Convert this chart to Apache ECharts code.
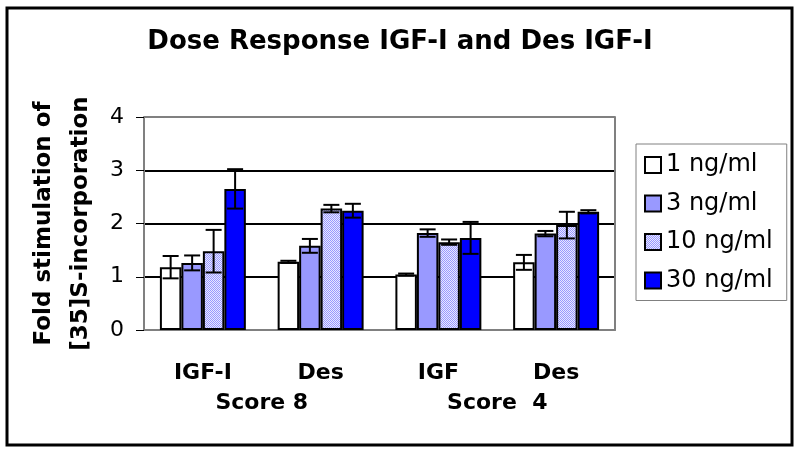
<!DOCTYPE html>
<html><head><meta charset="utf-8">
<script src="https://cdn.jsdelivr.net/npm/echarts@6/dist/echarts.min.js"></script>
<style>html,body{margin:0;padding:0;background:#fff}#c{width:800px;height:454px}</style>
</head><body><div id="c"></div>
<script>
const categories = ['IGF-I', 'Des', 'IGF', 'Des'];
const scoreLabels = ['Score 8', 'Score  4'];
const seriesNames = ['1 ng/ml', '3 ng/ml', '10 ng/ml', '30 ng/ml'];
const mean1 = [1.18, 1.28, 1.04, 1.27];
const mean3 = [1.26, 1.58, 1.82, 1.81];
const mean10 = [1.48, 2.28, 1.65, 1.97];
const mean30 = [2.65, 2.24, 1.73, 2.22];
const err1 = [0.21, 0.02, 0.02, 0.14];
const err3 = [0.14, 0.13, 0.07, 0.05];
const err10 = [0.40, 0.07, 0.05, 0.25];
const err30 = [0.37, 0.13, 0.30, 0.03];
const yTicks = [0, 1, 2, 3, 4];

const means = [mean1, mean3, mean10, mean30];
const errs = [err1, err3, err10, err30];
const FONT = '"DejaVu Sans", Arial, sans-serif';

const cv = document.createElement('canvas');
cv.width = 2; cv.height = 2;
const cx = cv.getContext('2d');
cx.fillStyle = '#e8e8ff'; cx.fillRect(0, 0, 2, 2);
cx.fillStyle = '#9999ff'; cx.fillRect(0, 0, 1, 1); cx.fillRect(1, 1, 1, 1);
const colors = ['#ffffff', '#9999ff', {image: cv, repeat: 'repeat'}, '#0000ff'];
const CAT_GAP = 0.27;

const series = [];
means.forEach((m, si) => {
  series.push({
    type: 'bar', name: seriesNames[si], data: m,
    barGap: '0%', barCategoryGap: (CAT_GAP * 100) + '%',
    itemStyle: {color: colors[si], borderColor: '#000', borderWidth: 2},
    emphasis: {disabled: true}
  });
});
means.forEach((m, si) => {
  series.push({
    type: 'custom', name: 'err' + si,
    data: m.map((v, i) => [i, v, errs[si][i]]),
    encode: {x: 0, y: 1}, z: 10,
    renderItem: (params, api) => {
      const ci = api.value(0), v = api.value(1), e = api.value(2);
      const bw = api.size([1, 0])[0] * (1 - CAT_GAP) / 4;
      const x = api.coord([ci, v])[0] + (si - 1.5) * bw;
      const top = api.coord([ci, v + e])[1];
      const bot = api.coord([ci, v - e])[1];
      const cw = 8;
      const st = {stroke: '#000', lineWidth: 2};
      return {type: 'group', children: [
        {type: 'line', shape: {x1: x, y1: top, x2: x, y2: bot}, style: st},
        {type: 'line', shape: {x1: x - cw, y1: top, x2: x + cw, y2: top}, style: st},
        {type: 'line', shape: {x1: x - cw, y1: bot, x2: x + cw, y2: bot}, style: st}
      ]};
    }
  });
});

const chart = echarts.init(document.getElementById('c'), null, {renderer: 'canvas'});
chart.setOption({
  animation: false,
  backgroundColor: '#fff',
  title: {
    text: 'Dose Response IGF-I and Des IGF-I', left: 'center', top: 24,
    textStyle: {fontFamily: FONT, fontSize: 26, fontWeight: 'bold', color: '#000'}
  },
  grid: {left: 144, right: 185, top: 117, bottom: 124},
  legend: {
    orient: 'vertical', left: 636, top: 144,
    data: seriesNames,
    itemWidth: 16, itemHeight: 16, itemGap: 14.5,
    padding: [9, 14, 8, 8],
    borderColor: '#808080', borderWidth: 1,
    icon: 'rect',
    textStyle: {fontFamily: FONT, fontSize: 24, color: '#000'}
  },
  xAxis: [{
    type: 'category', data: categories,
    axisLine: {lineStyle: {color: '#808080', width: 2}},
    axisTick: {show: false},
    axisLabel: {fontFamily: FONT, fontSize: 22, fontWeight: 'bold', color: '#000', margin: 32}
  }, {
    type: 'category', data: scoreLabels, position: 'bottom', offset: 30,
    axisLine: {show: false}, axisTick: {show: false},
    axisLabel: {fontFamily: FONT, fontSize: 22, fontWeight: 'bold', color: '#000', margin: 32}
  }],
  yAxis: [{
    type: 'value', min: yTicks[0], max: yTicks[yTicks.length - 1], interval: 1,
    name: 'Fold stimulation of\n[35]S-incorporation',
    nameLocation: 'middle', nameRotate: 90, nameGap: 44,
    nameTextStyle: {fontFamily: FONT, fontSize: 23, fontWeight: 'bold', color: '#000', lineHeight: 37},
    axisLine: {show: true, lineStyle: {color: '#808080', width: 2}},
    axisTick: {show: true, inside: false, length: 8, lineStyle: {color: '#000', width: 1}},
    axisLabel: {fontFamily: FONT, fontSize: 22, color: '#000', margin: 20},
    splitLine: {show: true, lineStyle: {color: ['#808080', '#000', '#000', '#000', '#808080'], width: 2}}
  }, {
    type: 'value', min: 0, max: 4, position: 'right',
    axisLine: {show: true, lineStyle: {color: '#808080', width: 2}},
    axisTick: {show: false}, axisLabel: {show: false}, splitLine: {show: false}
  }],
  graphic: [{
    type: 'rect', shape: {x: 7, y: 8, width: 785, height: 437},
    style: {fill: null, stroke: '#000', lineWidth: 3}, silent: true
  }],
  series: series
});
</script>
</body></html>
